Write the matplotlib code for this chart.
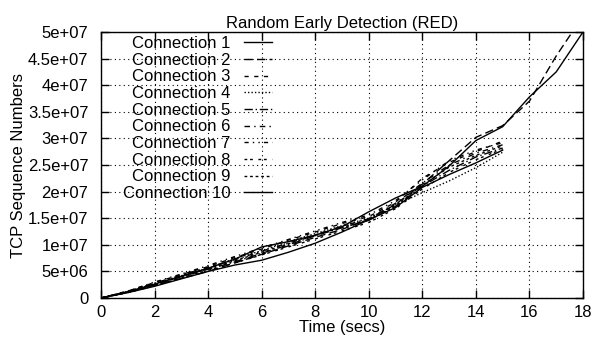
import matplotlib
matplotlib.use("Agg")
import matplotlib.pyplot as plt
import numpy as np

plt.rcParams["font.family"] = ["Liberation Sans", "DejaVu Sans"]

# time axes (secs)
t_long = list(range(0, 19))
t_c2 = list(range(0, 18)) + [17.6]
t_short = list(range(0, 16))

# sequence numbers, in units of 1e6
conn1 = [0, 1.2, 2.6, 4.1, 5.6, 7.3, 9.6, 10.6, 11.8, 13.4, 16.2, 18.8, 21.0, 24.8, 29.6, 32.2, 37.8, 42.5, 50.0]
conn2 = [0, 1.1, 2.4, 3.7, 5.0, 6.6, 8.2, 9.8, 11.4, 12.9, 14.8, 17.6, 21.4, 25.8, 30.2, 32.4, 37.0, 45.5, 50.0]
conn3 = [0, 1.3, 2.9, 4.4, 5.9, 7.6, 9.2, 10.9, 12.4, 14.0, 15.3, 18.0, 22.5, 25.5, 27.5, 29.5]
conn4 = [0, 1.2, 2.7, 4.2, 5.6, 7.4, 8.9, 10.6, 12.1, 13.6, 15.0, 17.5, 19.8, 22.0, 24.5, 27.4]
conn5 = [0, 1.1, 2.5, 4.0, 5.4, 6.8, 8.4, 10.0, 11.7, 13.2, 14.6, 17.2, 21.0, 24.0, 26.5, 28.2]
conn6 = [0, 1.2, 2.8, 4.3, 5.8, 7.2, 8.8, 10.3, 11.9, 13.5, 14.9, 17.8, 21.6, 25.0, 27.2, 28.8]
conn7 = [0, 1.3, 3.0, 4.5, 6.1, 7.8, 9.4, 11.0, 12.6, 14.2, 15.6, 18.3, 22.2, 25.8, 27.8, 29.2]
conn8 = [0, 1.0, 2.3, 3.8, 5.2, 6.6, 8.1, 9.6, 11.1, 12.6, 14.2, 16.8, 20.5, 23.6, 26.0, 28.0]
conn9 = [0, 1.1, 2.6, 4.0, 5.5, 7.0, 8.6, 10.2, 11.8, 13.3, 14.7, 17.4, 21.2, 24.6, 26.8, 28.6]
conn10 = [0, 1.0, 2.2, 3.6, 5.0, 6.2, 7.1, 8.6, 10.3, 12.4, 14.7, 17.0, 20.8, 23.2, 25.4, 27.8]

series = [
    ("Connection 1", t_long, conn1, "-"),
    ("Connection 2", t_c2, conn2, (0, (6, 3))),
    ("Connection 3", t_short, conn3, (0, (3, 4))),
    ("Connection 4", t_short, conn4, (0, (1, 1.5))),
    ("Connection 5", t_short, conn5, (0, (6, 2, 1, 2))),
    ("Connection 6", t_short, conn6, (0, (4, 3, 1, 3))),
    ("Connection 7", t_short, conn7, (0, (3, 3, 1, 3, 1, 3))),
    ("Connection 8", t_short, conn8, (0, (2, 2, 2, 4))),
    ("Connection 9", t_short, conn9, (0, (2, 2))),
    ("Connection 10", t_short, conn10, "-"),
]

fs = 12

fig = plt.figure(figsize=(5.94, 3.43), dpi=100)
ax = fig.add_axes([101 / 594, 1 - 298 / 343, 482 / 594, 266 / 343])

for label, t, v, ls in series:
    ax.plot(t, np.array(v) * 1e6, color="black", linestyle=ls, linewidth=1.0, label=label)

ax.set_xlim(0, 18)
ax.set_ylim(0, 5e7)
ax.set_xticks(range(0, 19, 2))
yt = np.arange(0, 5.01e7, 5e6)
ax.set_yticks(yt)
ylabels = ["0"] + ["%ge+%02d" % (v / 10 ** int(np.floor(np.log10(v))), int(np.floor(np.log10(v)))) for v in yt[1:]]
ax.set_yticklabels(ylabels)
ax.tick_params(direction="in", top=True, right=True, labelsize=fs, length=6, width=1)
ax.tick_params(axis="y", pad=9)
ax.tick_params(axis="x", pad=5)
ax.grid(True, color="black", linestyle=(0, (1, 3)), linewidth=0.8)
for s in ax.spines.values():
    s.set_linewidth(1.0)

ax.set_title("Random Early Detection (RED)", fontsize=fs, pad=3)
ax.set_xlabel("Time (secs)", fontsize=fs, labelpad=0)
ax.set_ylabel("TCP Sequence Numbers", fontsize=fs, labelpad=1)

ax.legend(loc="upper left", bbox_to_anchor=(0.031, 1.01), frameon=False, markerfirst=False,
          fontsize=fs, handlelength=1.7, labelspacing=0.1, handletextpad=0.8,
          borderaxespad=0.0)

fig.savefig("out.png", dpi=100)
